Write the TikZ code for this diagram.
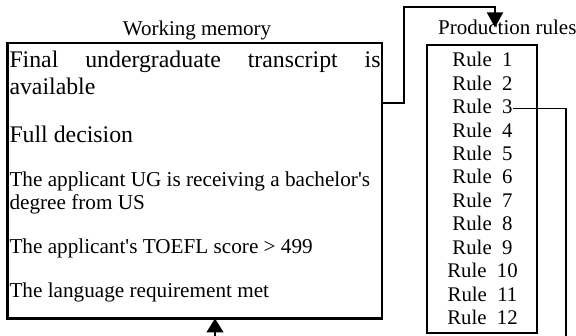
\documentclass[tikz,border=0pt]{standalone}
\usepackage{fontspec}
\setmainfont{Liberation Serif}[Ligatures=TeXOff]
\usetikzlibrary{arrows.meta}
\begin{document}
\begin{tikzpicture}[x=1pt,y=-1pt,
  box/.style={draw, line width=2.3pt, inner sep=0pt, outer sep=0pt},
  conn/.style={line width=1.6pt},
  wmbig/.style={font=\fontsize{23.8}{27}\selectfont, anchor=base west, inner sep=0pt},
  wmtext/.style={font=\fontsize{21.2}{24}\selectfont, anchor=base west, inner sep=0pt},
  rulestyle/.style={font=\fontsize{20.8}{24}\selectfont, anchor=base, inner sep=0pt},
  titlestyle/.style={font=\fontsize{21}{24}\selectfont, anchor=base, inner sep=0pt},
  arrowtip/.style={-{Triangle[width=16pt,length=15pt]}}]
\useasboundingbox (0,0) rectangle (576,336);
% boxes
\node[box, minimum width=374.5pt, minimum height=275.5pt, anchor=north west] (wm) at (7.5,43) {};
\node[box, minimum width=110pt, minimum height=288pt, anchor=north west] (pr) at (427,45) {};
% titles
\node[titlestyle] (wmt) at (197,36) {Working memory};
\node[titlestyle, anchor=base west] (prt) at (438,35) {Production rules};
% working memory contents
\node[wmbig] (l1) at (9.3,67.3) {\makebox[371pt][s]{Final undergraduate transcript is}};
\node[wmbig] (l2) at (9.3,94.3) {available};
\node[wmbig] (l3) at (9.3,142.7) {Full decision};
\node[wmtext] (l4) at (9.3,186.7) {The applicant UG is receiving a bachelor's};
\node[wmtext] (l5) at (9.3,210) {degree from US};
\node[wmtext] (l6) at (9.3,254) {The applicant's TOEFL score > 499};
\node[wmtext] (l7) at (9.3,297.3) {The language requirement met};
% rules
\foreach \k in {1,...,12}{
  \node[rulestyle] (r\k) at (482.5,{66.7+23.45*(\k-1)}) {Rule\ \ \k};
}
% connectors
\coordinate (h1) at (0,103);
\coordinate (v1) at (404,7);
\coordinate (ptip) at (495,27.5);
\draw[conn, arrowtip] (wm.east |- h1) -| (v1) -| (ptip);
\coordinate (rb) at (565.7,340);
\draw[conn] ([yshift=5pt]r3.base east) -| (rb);
\coordinate (wb) at (215,340);
\draw[conn, -{Triangle[width=17pt,length=14pt]}] (wb) -- (wb |- wm.south);
\end{tikzpicture}
\end{document}
